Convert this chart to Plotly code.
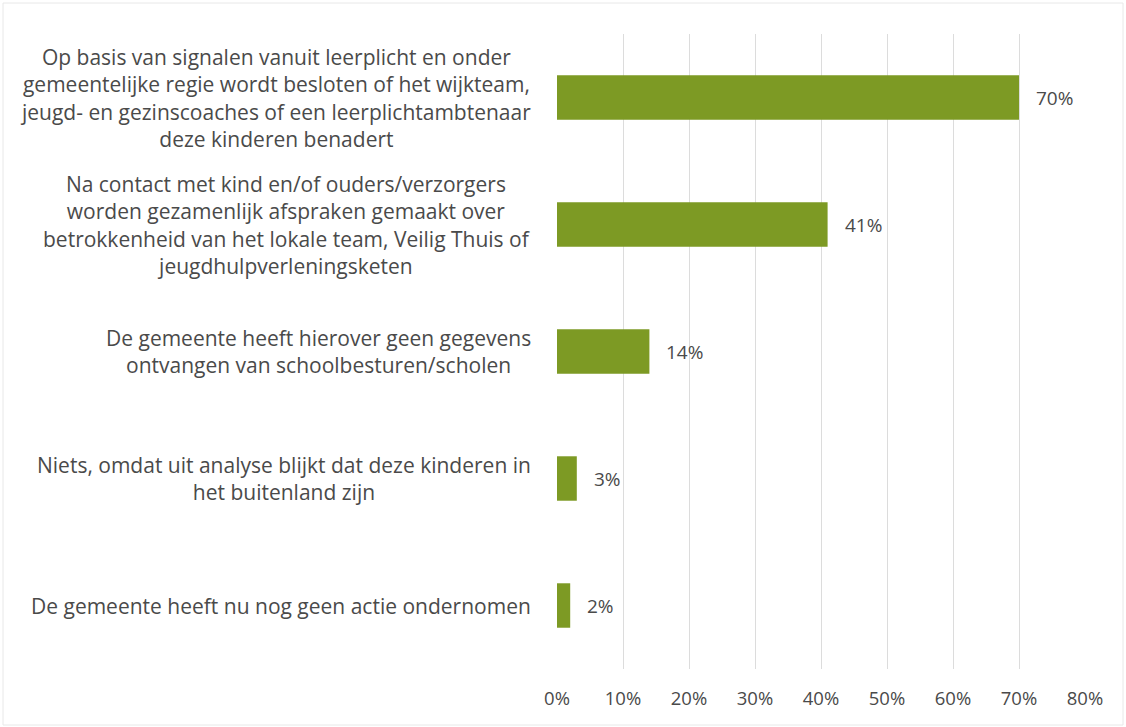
import plotly.graph_objects as go

# Answer categories (top to bottom) and their shares in percent
categories = [
    "Op basis van signalen vanuit leerplicht en onder<br>gemeentelijke regie wordt besloten of het wijkteam,<br>jeugd- en gezinscoaches of een leerplichtambtenaar<br>deze kinderen benadert",
    "Na contact met kind en/of ouders/verzorgers<br>worden gezamenlijk afspraken gemaakt over<br>betrokkenheid van het lokale team, Veilig Thuis of<br>jeugdhulpverleningsketen",
    "De gemeente heeft hierover geen gegevens<br>ontvangen van schoolbesturen/scholen",
    "Niets, omdat uit analyse blijkt dat deze kinderen in<br>het buitenland zijn",
    "De gemeente heeft nu nog geen actie ondernomen",
]
values = [70, 41, 14, 3, 2]
tick_values = [0, 10, 20, 30, 40, 50, 60, 70, 80]
tick_labels = ["0%", "10%", "20%", "30%", "40%", "50%", "60%", "70%", "80%"]

FONT = "Open Sans"
TEXT_COLOR = "#4a4a4a"
BAR_COLOR = "#7d9a24"

ids = list(range(len(categories)))

fig = go.Figure(
    go.Bar(
        x=values,
        y=ids,
        orientation="h",
        marker=dict(color=BAR_COLOR, line=dict(width=0)),
        width=0.35,
        hoverinfo="skip",
    )
)

annotations = []
# Category labels: centred multi-line blocks, right-aligned to the plot edge
for i, cat in zip(ids, categories):
    annotations.append(dict(
        x=0, xref="paper", y=i, yref="y",
        text=cat, showarrow=False,
        xanchor="right", yanchor="middle", align="center",
        xshift=-24,
        font=dict(family=FONT, size=21, color=TEXT_COLOR),
    ))
# Value labels to the right of each bar
for i, v in zip(ids, values):
    annotations.append(dict(
        x=v, xref="x", y=i, yref="y",
        text=f"{v}%", showarrow=False,
        xanchor="left", yanchor="middle",
        xshift=15,
        font=dict(family=FONT, size=19, color=TEXT_COLOR),
    ))

fig.update_layout(
    width=1126,
    height=727,
    margin=dict(l=557, r=41, t=34, b=58),
    paper_bgcolor="white",
    plot_bgcolor="white",
    showlegend=False,
    annotations=annotations,
    font=dict(family=FONT, color=TEXT_COLOR),
    shapes=[dict(
        type="rect", xref="paper", yref="paper",
        x0=-554 / 528, x1=1 + 38 / 528, y0=-56 / 635, y1=1 + 31 / 635,
        line=dict(color="#e8e8e8", width=1),
        fillcolor="rgba(0,0,0,0)", layer="below",
    )],
)

fig.update_xaxes(
    range=[0, 80],
    tickvals=tick_values,
    ticktext=tick_labels,
    showgrid=True,
    gridcolor="#dcdcdc",
    gridwidth=1,
    zeroline=False,
    showline=False,
    ticks="",
    tickfont=dict(family=FONT, size=18.5, color=TEXT_COLOR),
    ticklabelstandoff=16,
)
fig.update_yaxes(
    range=[len(categories) - 0.5, -0.5],
    showticklabels=False,
    showgrid=False,
    zeroline=False,
    showline=False,
    ticks="",
)

fig.write_html("out.html")
